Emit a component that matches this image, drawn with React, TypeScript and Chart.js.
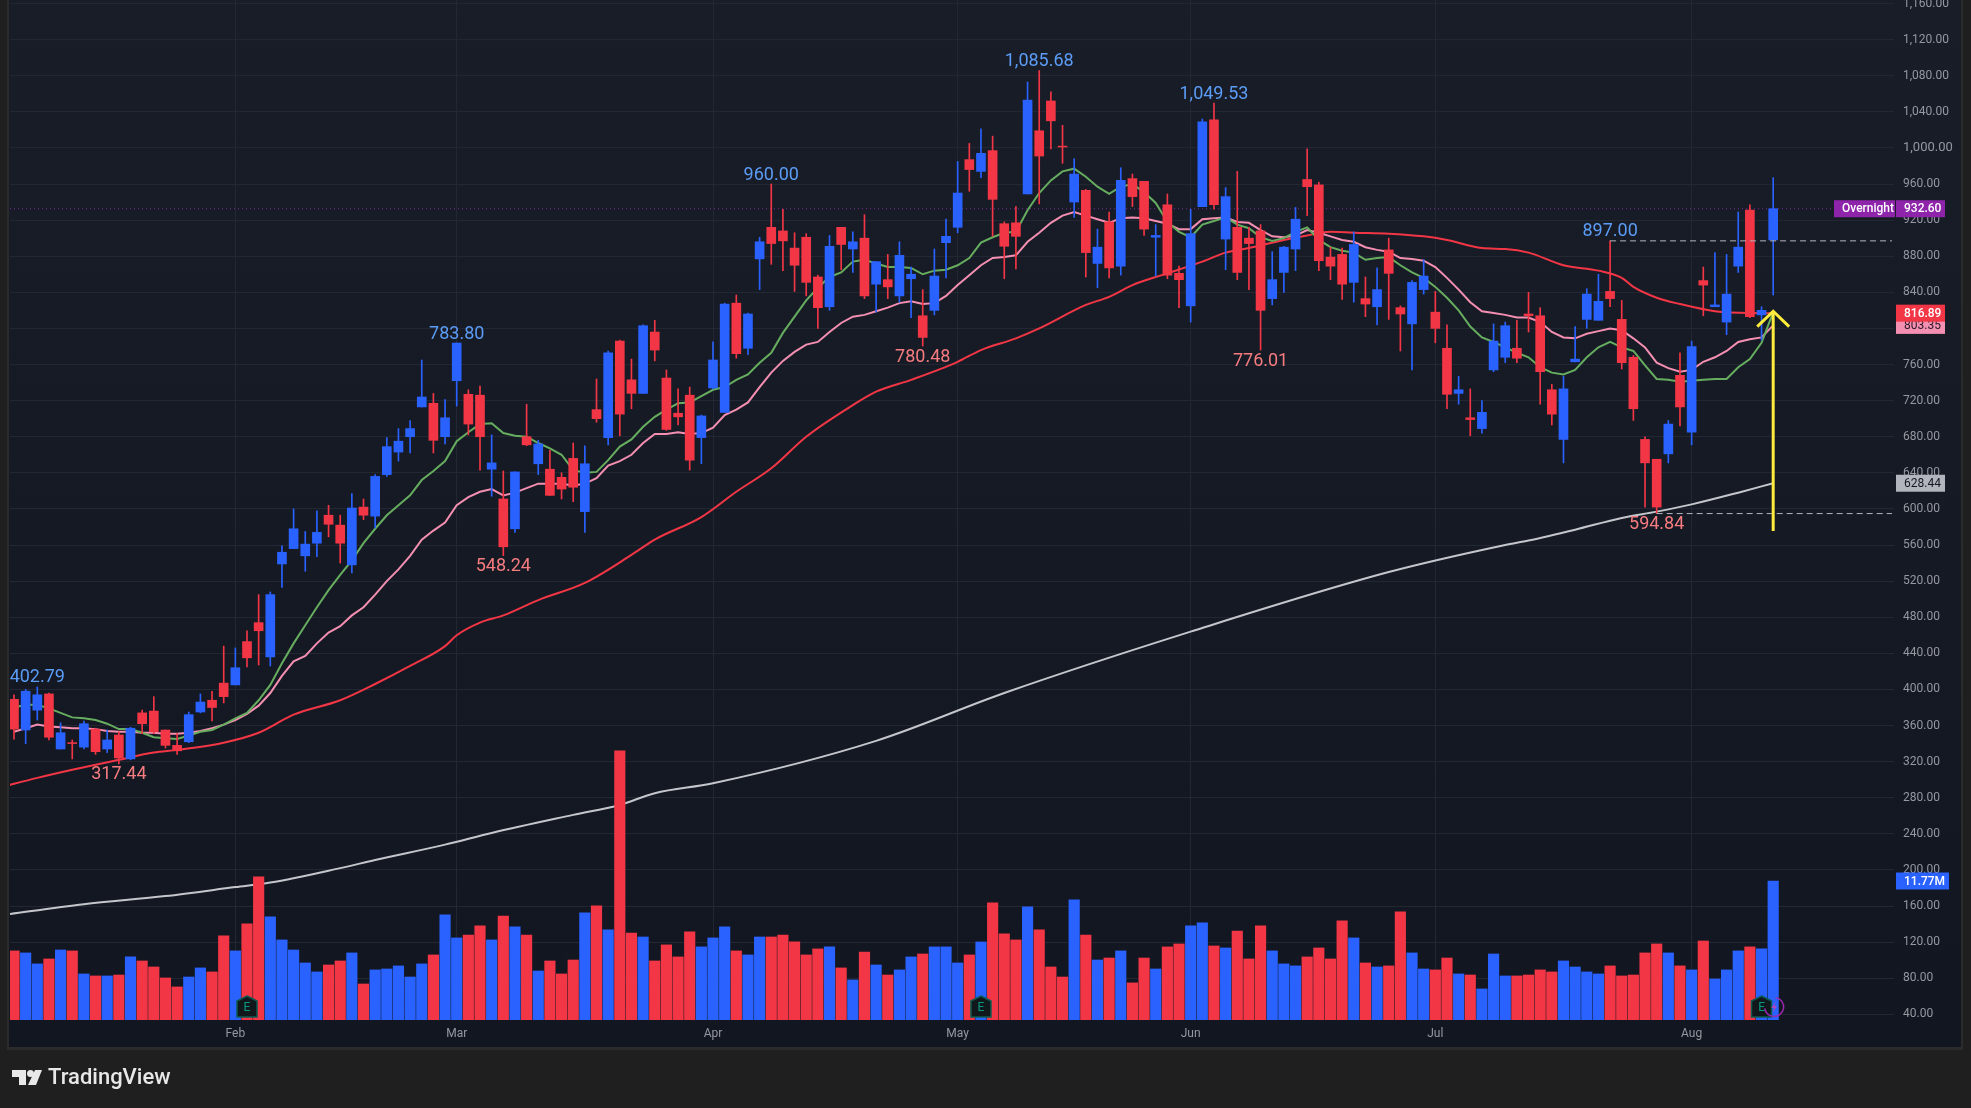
import React, { useEffect, useRef } from "react";
import { Chart, registerables } from "chart.js";

Chart.register(...registerables);

const opens = [
  389, 355, 377, 395, 334, 341, 336, 356, 334, 349.5,
  323, 374, 376, 355, 338, 342, 375, 388, 407, 405,
  453, 474, 436, 539, 556, 548, 562, 593, 582, 538,
  602, 592, 638, 663, 680, 713, 717, 680, 742, 727,
  726, 644, 611, 578, 680, 650, 644, 635, 656, 597,
  710, 679, 786, 743, 728, 796, 745, 706, 726, 679,
  734, 707, 828, 778, 877, 912, 908, 889, 901, 857,
  824, 912, 888, 900, 849, 854, 836, 855, 814, 820,
  895, 912, 987, 974, 997, 916, 917, 949, 1019, 1052,
  1002, 940, 953, 872, 918, 869, 966, 963, 901, 937,
  861, 825, 935, 1031, 899, 912, 900, 908, 833, 862,
  888, 965, 959, 879, 882, 851, 833, 824, 887, 823,
  805, 843, 818, 778, 728, 701, 689, 754, 768, 778,
  816, 814, 732, 677, 763, 810, 809, 841, 810, 768,
  677, 655, 661, 748, 685, 853, 824, 807, 869, 931,
  815, 898,
];
const closes = [
  356, 398, 394, 347, 352, 340, 362, 331, 344, 324,
  357, 362, 353, 338, 332, 372, 386, 380, 392, 424,
  435, 465, 505, 552, 578, 561, 574, 583, 562, 601,
  593, 636, 669, 675, 689, 724, 676, 701, 783.8, 694,
  680, 651, 558, 641, 671, 672, 615, 622, 624, 650,
  700, 773, 705, 728, 803, 776, 688, 702, 654, 703,
  765, 827, 772, 816, 896, 894, 897, 870, 851, 823,
  891, 893, 896, 836, 874, 846, 881, 860, 790, 858,
  902, 950, 976, 994, 943, 891, 902, 1053, 991, 1030,
  1001, 971, 884, 890, 867, 964, 946, 910, 903, 859,
  854, 905, 1029, 937, 946, 862, 894, 820, 854, 890,
  921, 957, 875, 869, 849, 893, 827, 843, 861, 816,
  851, 858, 800, 727, 732, 699, 707, 786, 803, 767,
  814, 752, 705, 733, 766, 838, 830, 833, 762, 711,
  651, 602, 694, 713, 780, 848, 826, 838, 890, 813,
  820, 932.6,
];
const highs = [
  394, 400, 402.79, 396, 363, 344, 365, 357, 355, 353,
  358, 377, 392, 355, 351, 375, 395, 398, 448, 446,
  465, 505, 508, 559, 600, 575, 598, 604, 593, 617,
  611, 638, 679, 689, 698, 765, 728, 721, 783.8, 732,
  736, 682, 642, 641, 716, 676, 665, 640, 673, 670,
  744, 775, 787, 766, 804, 809, 754, 733, 735, 704,
  785, 828, 837, 817, 901, 960, 932, 906, 905, 859,
  903, 912, 907, 926, 874, 882, 896, 868, 843, 888,
  921, 985, 1005, 1021, 1013, 918, 935, 1073, 1085.68, 1062,
  1025, 988, 954, 910, 929, 978, 971, 963, 915, 949,
  869, 932, 1032, 1049.53, 956, 974, 912, 915, 885, 891,
  934, 999, 962, 890, 889, 907, 857, 867, 900, 825,
  853, 876, 841, 804, 747, 733, 720, 805, 807, 809,
  840, 823, 738, 747, 802, 844, 860, 897, 831, 770,
  680, 655, 698, 773, 786, 868, 884, 882, 929, 937,
  824, 967,
];
const lows = [
  345, 340, 366, 344, 334, 323, 334, 328, 330, 317.44,
  322, 351, 351, 335, 328, 341, 374, 365, 385, 405,
  425, 427, 426, 513, 556, 531, 547, 569, 540, 529,
  588, 579, 636, 653, 662, 713, 662, 672, 714, 682,
  643, 614, 548.24, 574, 670, 638, 615, 611, 608, 574,
  696, 671, 681, 711, 728, 764, 687, 693, 643, 650,
  733, 707, 767, 771, 843, 871, 864, 841, 836, 800,
  820, 865, 862, 833, 818, 833, 829, 812, 780.48, 815,
  856, 906, 952, 967, 902, 855, 866, 949, 938, 999,
  983, 923, 857, 845, 856, 859, 935, 903, 858, 855,
  823, 807, 935, 932, 865, 854, 843, 776.01, 826, 840,
  864, 925, 864, 854, 832, 829, 813, 804, 810, 775,
  754, 838, 784, 711, 716, 681, 684, 752, 762, 762,
  796, 716, 693, 651, 763, 800, 809, 824, 755, 698,
  602, 594.84, 651, 692, 671, 814, 824, 793, 862, 812,
  787, 837,
];
const volumesM = [
  5.85, 5.68, 4.75, 5.17, 5.93, 5.85, 3.9, 3.73, 3.73, 3.81,
  5.34, 5.0, 4.49, 3.56, 2.8, 3.64, 4.41, 4.07, 7.12, 5.85,
  8.14, 12.12, 8.73, 6.78, 5.93, 4.83, 4.07, 4.66, 5.0, 5.68,
  3.05, 4.24, 4.32, 4.58, 3.64, 4.75, 5.51, 8.9, 6.95, 7.2,
  7.97, 6.78, 8.81, 7.88, 7.2, 4.15, 5.0, 3.9, 5.08, 9.07,
  9.66, 7.63, 22.8, 7.37, 7.03, 5.0, 6.36, 5.34, 7.46, 6.19,
  6.95, 7.88, 5.85, 5.51, 7.03, 7.03, 7.2, 6.61, 5.51, 6.02,
  6.19, 4.41, 3.39, 5.76, 4.66, 3.81, 4.24, 5.34, 5.59, 6.19,
  6.19, 4.83, 5.51, 6.61, 9.92, 7.29, 6.78, 9.58, 7.63, 4.49,
  3.64, 10.17, 7.2, 5.08, 5.25, 5.85, 3.14, 5.25, 4.32, 6.19,
  6.44, 7.97, 8.22, 6.27, 6.1, 7.54, 5.17, 7.97, 5.85, 4.75,
  4.58, 5.34, 6.1, 5.17, 8.39, 6.95, 4.83, 4.49, 4.58, 9.15,
  5.68, 4.32, 4.24, 5.25, 3.9, 3.81, 2.63, 5.59, 3.73, 3.73,
  3.81, 4.24, 4.07, 5.0, 4.49, 4.07, 3.9, 4.58, 3.73, 3.81,
  5.68, 6.44, 5.68, 4.58, 4.24, 6.69, 3.47, 4.24, 5.85, 6.19,
  6.02, 11.77,
];

const emaFast = [
  380, 383, 383, 379, 374, 369, 368, 366, 362, 356,
  356, 352, 347, 346, 345, 349, 353, 355, 361, 368,
  374, 388, 405, 429, 451, 471, 491, 510, 527, 543,
  562, 578, 593, 604, 615, 632, 642, 653, 675, 685,
  694, 695, 684, 681, 680, 673, 667, 660, 643, 640,
  641, 654, 669, 677, 691, 702, 710, 717, 718, 725,
  732, 735, 743, 749, 762, 773, 795, 813, 831, 845,
  857, 862, 874, 876, 872, 868, 868, 867, 860, 864,
  865, 870, 878, 895, 901, 906, 907, 931, 950, 964,
  974, 977, 968, 957, 949, 957, 960, 951, 939, 918,
  907, 901, 915, 919, 923, 915, 911, 901, 897, 900,
  907, 912, 898, 890, 886, 884, 876, 878, 879, 870,
  862, 856, 846, 834, 820, 802, 790, 785, 779, 773,
  768, 757, 751, 749, 754, 768, 779, 785, 779, 775,
  759, 744, 743, 741, 742, 743, 744, 744, 757, 766,
  784, 818,
];
const emaMid = [
  353, 357, 361, 359, 358, 357, 357, 356, 354, 353,
  353, 352, 352, 351, 351, 352, 354, 357, 361, 366,
  373, 382, 396, 415, 431, 437, 451, 463, 470, 482,
  491, 505, 520, 533, 548, 566, 576, 585, 604, 613,
  619, 622, 615, 618, 623, 628, 628, 628, 626, 628,
  634, 648, 653, 660, 673, 683, 683, 685, 683, 684,
  690, 704, 710, 718, 735, 751, 764, 774, 782, 785,
  796, 806, 813, 815, 819, 823, 828, 830, 827, 828,
  836, 848, 859, 870, 878, 879, 881, 896, 906, 917,
  925, 929, 925, 921, 917, 922, 923, 922, 919, 916,
  910, 910, 921, 922, 923, 918, 917, 909, 902, 901,
  903, 909, 906, 902, 898, 896, 890, 887, 885, 878,
  877, 875, 868, 856, 843, 829, 819, 817, 815, 812,
  812, 807, 796, 790, 789, 794, 797, 800, 798, 789,
  779, 762, 756, 752, 754, 763, 768, 775, 785, 788,
  790, 803.35,
];
const emaSlowIdx = [
  -1, 2, 5, 9, 12, 14, 18, 21, 24, 28, 31, 34, 37, 38, 40, 42, 45, 49, 53, 55, 59, 62, 65,
  68, 72, 74, 77, 81, 83, 86, 88, 92, 94, 96, 99, 102, 104, 106, 109, 111, 113, 115, 118,
  121, 123, 126, 128, 130, 133, 136, 138, 139, 141, 143, 146, 149, 151,
];
const emaSlow = [
  292, 302, 311, 322, 330, 333, 341, 352, 372, 388, 406, 426, 448, 460, 474, 482, 499, 518, 549, 566, 591, 619, 645,
  680, 715, 730, 743, 763, 776, 789, 800, 826, 835, 848, 861, 874, 884, 889, 898, 903, 907, 906, 905,
  902, 898, 889, 888, 884, 870, 864, 856, 846, 834, 827, 819, 817, 816.89,
];
const sma200Idx = [-1, 6, 13, 19, 22, 28, 31, 37, 41, 48, 52, 55, 60, 74, 85, 101, 118, 128, 130, 134, 138, 141, 144, 148, 151];
const sma200 = [150, 162, 171, 181, 186, 202, 211, 228, 241, 261, 272, 285, 296, 343, 396, 464, 530, 560, 565, 577, 590, 597, 605, 618, 628.44];

const priceTicks = [
  40, 80, 120, 160, 200, 240, 280, 320, 360, 400, 440, 480, 520, 560, 600, 640, 680, 720, 760, 800, 840, 880, 920,
  960, 1000, 1040, 1080, 1120, 1160,
];
const monthIdx = [19, 38, 60, 81, 101, 122, 144];
const monthLabels = ["Feb", "Mar", "Apr", "May", "Jun", "Jul", "Aug"];

const extremeText = ["402.79", "317.44", "783.80", "548.24", "960.00", "1,085.68", "780.48", "1,049.53", "776.01", "897.00", "594.84"];
const extremeIdx = [2, 9, 38, 42, 65, 88, 78, 103, 107, 137, 141];
const extremeValue = [402.79, 317.44, 783.8, 548.24, 960, 1085.68, 780.48, 1049.53, 776.01, 897, 594.84];
const extremeIsHigh = [true, false, true, false, true, true, false, true, false, true, false];

const overnightPrice = 932.6;
const resistancePrice = 897;
const supportPrice = 594.84;
const arrowShaftPrice = [575.5, 819];
const arrowHeadIdx = [149.63, 151, 152.37];
const arrowHeadPrice = [802, 819, 802];
const earningsIdx = [20, 83, 150];
const dividendIdx = 151;

const BLUE = "#2962ff";
const RED = "#f23645";
const candleIdx = opens.map((_, i) => i);
const colorOf = candleIdx.map((i) => (closes[i] > opens[i] ? BLUE : RED));
const pts = (xs: number[], ys: number[]) => xs.map((x, i) => ({ x, y: ys[i] }));
const X_MIN = -0.343;
const X_MAX = 161.37;

const lineStyle = { type: "line" as const, pointRadius: 0, pointHoverRadius: 0, fill: false, yAxisID: "y" };

const paint = {
  id: "paint",
  beforeDraw(chart: any) {
    const { ctx, width, height } = chart;
    ctx.save();
    ctx.fillStyle = "#1f1f1f";
    ctx.fillRect(0, 0, width, height);
    const g = ctx.createLinearGradient(0, 0, 0, 1047);
    g.addColorStop(0, "#191d28");
    g.addColorStop(1, "#121620");
    ctx.fillStyle = "#2b2b2b";
    ctx.fillRect(7, 0, 1956, 1050);
    ctx.fillStyle = g;
    ctx.fillRect(9, 0, 1952, 1047);
    ctx.restore();
  },
  afterDraw(chart: any) {
    const { ctx, scales } = chart;
    const px = (i: number) => scales.x.getPixelForValue(i);
    const py = (p: number) => scales.y.getPixelForValue(p);
    ctx.save();

    // high / low annotations
    ctx.font = "18px Roboto";
    ctx.textAlign = "center";
    ctx.textBaseline = "middle";
    extremeText.forEach((t, k) => {
      const up = extremeIsHigh[k];
      ctx.fillStyle = up ? "#5b9cf6" : "#f77c80";
      ctx.fillText(t, px(extremeIdx[k]), py(extremeValue[k]) + (up ? -9 : 11));
    });

    // earnings flags
    earningsIdx.forEach((i) => {
      const cx = px(i);
      ctx.beginPath();
      ctx.moveTo(cx, 996);
      ctx.lineTo(cx + 10, 1001);
      ctx.lineTo(cx + 10, 1017);
      ctx.lineTo(cx - 10, 1017);
      ctx.lineTo(cx - 10, 1001);
      ctx.closePath();
      ctx.fillStyle = "#10181c";
      ctx.fill();
      ctx.lineWidth = 1.5;
      ctx.strokeStyle = "#0a5c50";
      ctx.stroke();
      ctx.fillStyle = "#089981";
      ctx.font = "12px Roboto";
      ctx.fillText("E", cx, 1008);
    });

    // dividend-style circle
    const dx = px(dividendIdx);
    ctx.beginPath();
    ctx.arc(dx + 1, 1007, 9.5, -Math.PI * 0.45, Math.PI * 0.95);
    ctx.strokeStyle = "#9c27b0";
    ctx.lineWidth = 1.5;
    ctx.stroke();
    ctx.beginPath();
    ctx.moveTo(dx + 3, 1001);
    ctx.lineTo(dx - 2, 1008);
    ctx.lineTo(dx + 1, 1008);
    ctx.lineTo(dx - 1, 1013);
    ctx.lineTo(dx + 4, 1006);
    ctx.lineTo(dx + 1, 1006);
    ctx.closePath();
    ctx.fillStyle = "#ab47bc";
    ctx.fill();

    // axis tags
    const tag = (x0: number, x1: number, yc: number, h: number, bg: string, fg: string, text: string, weight = "") => {
      ctx.fillStyle = bg;
      ctx.fillRect(x0, yc - h / 2, x1 - x0, h);
      ctx.fillStyle = fg;
      ctx.font = `${weight} 12px Roboto`.trim();
      ctx.textAlign = "left";
      ctx.textBaseline = "middle";
      ctx.fillText(text, x0 + 8, yc + 0.5);
    };
    tag(1834, 1895, py(overnightPrice), 17, "#8e24aa", "#ffffff", "Overnight", "500");
    tag(1896, 1945, py(overnightPrice), 17, "#8e24aa", "#ffffff", "932.60", "500");
    tag(1896, 1945, py(803.35), 17, "#f48fb1", "#2a1b22", "803.35");
    tag(1896, 1945, py(816.89), 17, "#f23645", "#ffffff", "816.89", "500");
    tag(1896, 1945, py(628.44), 17, "#b2b5be", "#131722", "628.44");
    const vy = scales.vol.getPixelForValue(11.77);
    ctx.fillStyle = BLUE;
    ctx.fillRect(1896, vy - 8.5, 53, 17);
    ctx.fillStyle = "#ffffff";
    ctx.font = "500 12px Roboto";
    ctx.fillText("11.77M", 1904, vy + 0.5);

    // TradingView logo
    ctx.fillStyle = "#e8e8e8";
    ctx.beginPath();
    ctx.moveTo(12, 1070);
    ctx.lineTo(26, 1070);
    ctx.lineTo(26, 1085);
    ctx.lineTo(19, 1085);
    ctx.lineTo(19, 1077);
    ctx.lineTo(12, 1077);
    ctx.closePath();
    ctx.fill();
    ctx.beginPath();
    ctx.arc(30.5, 1073.5, 3.5, 0, Math.PI * 2);
    ctx.fill();
    ctx.beginPath();
    ctx.moveTo(35, 1070);
    ctx.lineTo(42, 1070);
    ctx.lineTo(36, 1085);
    ctx.lineTo(28, 1085);
    ctx.closePath();
    ctx.fill();
    ctx.font = "500 22px Roboto";
    ctx.textAlign = "left";
    ctx.textBaseline = "middle";
    ctx.fillText("TradingView", 48, 1078);
    ctx.restore();
  },
};

export default function App() {
  const ref = useRef<HTMLCanvasElement>(null);
  useEffect(() => {
    document.body.style.margin = "0";
    document.body.style.background = "#1f1f1f";
    const chart = new Chart(ref.current as HTMLCanvasElement, {
      type: "bar",
      plugins: [paint],
      data: {
        datasets: [
          {
            ...lineStyle,
            label: "Overnight",
            data: pts([X_MIN, X_MAX], [overnightPrice, overnightPrice]),
            borderColor: "#7b2a9e",
            borderWidth: 1,
            borderDash: [1, 3],
            order: 9,
          },
          {
            ...lineStyle,
            label: "SMA 200",
            data: pts(sma200Idx, sma200),
            borderColor: "#c4c6cc",
            borderWidth: 2,
            cubicInterpolationMode: "monotone",
            order: 8,
          },
          {
            ...lineStyle,
            label: "EMA 50",
            data: pts(emaSlowIdx, emaSlow),
            borderColor: RED,
            borderWidth: 2,
            cubicInterpolationMode: "monotone",
            order: 7,
          },
          {
            ...lineStyle,
            label: "EMA 20",
            data: pts(candleIdx, emaMid),
            borderColor: "#f48fb1",
            borderWidth: 2,
            order: 6,
          },
          {
            ...lineStyle,
            label: "EMA 10",
            data: pts(candleIdx, emaFast),
            borderColor: "#66ad5f",
            borderWidth: 2,
            order: 5,
          },
          {
            type: "bar",
            label: "Volume",
            yAxisID: "vol",
            grouped: false,
            barThickness: 10.5,
            data: pts(candleIdx, volumesM),
            backgroundColor: colorOf,
            order: 4,
          },
          {
            type: "bar",
            label: "Wicks",
            yAxisID: "y",
            grouped: false,
            barThickness: 1,
            data: candleIdx.map((i) => ({ x: i, y: [lows[i], highs[i]] })),
            backgroundColor: colorOf,
            order: 3,
          },
          {
            type: "bar",
            label: "Bodies",
            yAxisID: "y",
            grouped: false,
            barThickness: 9,
            data: candleIdx.map((i) => ({ x: i, y: [opens[i], closes[i]] })),
            backgroundColor: colorOf,
            order: 2,
          },
          {
            ...lineStyle,
            label: "Resistance",
            data: pts([137, 161.2], [resistancePrice, resistancePrice]),
            borderColor: "#b2b5be",
            borderWidth: 1,
            borderDash: [6, 4],
            order: 1,
          },
          {
            ...lineStyle,
            label: "Support",
            data: pts([141, 161.2], [supportPrice, supportPrice]),
            borderColor: "#b2b5be",
            borderWidth: 1,
            borderDash: [6, 4],
            order: 1,
          },
          {
            ...lineStyle,
            label: "Arrow shaft",
            data: pts([151, 151], arrowShaftPrice),
            borderColor: "#ffeb3b",
            borderWidth: 3,
            order: 0,
          },
          {
            ...lineStyle,
            label: "Arrow head",
            data: pts(arrowHeadIdx, arrowHeadPrice),
            borderColor: "#ffeb3b",
            borderWidth: 3,
            order: 0,
          },
        ] as any,
      },
      options: {
        responsive: false,
        animation: false,
        devicePixelRatio: 1,
        events: [],
        layout: { autoPadding: false, padding: { left: 10, right: 9, top: 0, bottom: 61 } },
        plugins: { legend: { display: false }, tooltip: { enabled: false }, title: { display: false } },
        scales: {
          x: {
            type: "linear",
            bounds: "data",
            min: X_MIN,
            max: X_MAX,
            offset: false,
            grid: { color: "#232733", lineWidth: 1, offset: false, drawTicks: false },
            border: { display: false },
            afterBuildTicks: (s: any) => {
              s.ticks = monthIdx.map((value) => ({ value }));
            },
            afterFit: (s: any) => {
              s.height = 27;
              s.paddingLeft = 0;
              s.paddingRight = 0;
            },
            ticks: {
              autoSkip: false,
              maxRotation: 0,
              padding: 7,
              color: "#9598a1",
              font: { family: "Roboto", size: 12 },
              callback: (v: any) => monthLabels[monthIdx.indexOf(Number(v))] ?? "",
            },
          },
          y: {
            type: "linear",
            position: "right",
            bounds: "data",
            min: 33.7,
            max: 1163.88,
            grid: { color: "#232733", lineWidth: 1, drawTicks: false },
            border: { display: false },
            afterBuildTicks: (s: any) => {
              s.ticks = priceTicks.map((value) => ({ value }));
            },
            afterFit: (s: any) => {
              s.width = 68;
              s.paddingTop = 0;
              s.paddingBottom = 0;
            },
            ticks: {
              autoSkip: false,
              padding: 9,
              color: "#9598a1",
              font: (c: any) => ({ family: "Roboto", size: c.tick && c.tick.value === 1000 ? 13 : 12 }),
              callback: (v: any) =>
                Number(v).toLocaleString("en-US", { minimumFractionDigits: 2, maximumFractionDigits: 2 }),
            },
          },
          vol: {
            type: "linear",
            position: "left",
            display: false,
            bounds: "data",
            min: 0,
            max: 86.37,
          },
        },
      } as any,
    });
    return () => chart.destroy();
  }, []);
  return <canvas ref={ref} width={1971} height={1108} style={{ display: "block" }} />;
}
